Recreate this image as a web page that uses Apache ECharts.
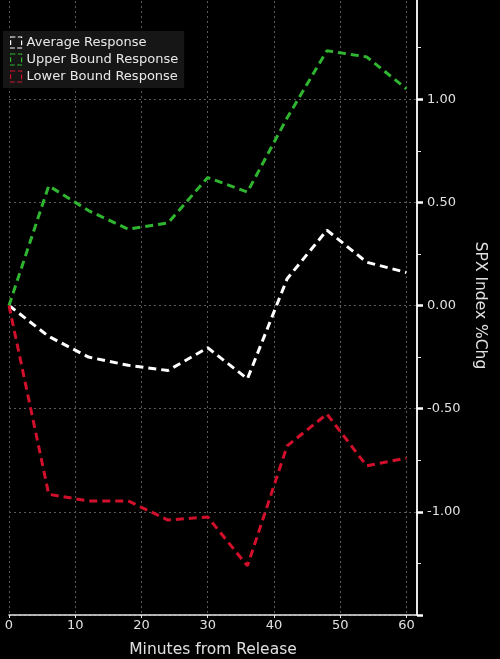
<!DOCTYPE html>
<html>
<head>
<meta charset="utf-8">
<script src="https://cdn.jsdelivr.net/npm/echarts@6/dist/echarts.min.js"></script>
<style>html,body{margin:0;padding:0;background:#000;}#c{width:500px;height:659px;}</style>
</head>
<body>
<div id="c"></div>
<script>
const minutes = [0, 6, 12, 18, 24, 30, 36, 42, 48, 54, 60];
const averageResponse = [0.00, -0.15, -0.25, -0.29, -0.315, -0.205, -0.355, 0.13, 0.365, 0.21, 0.16];
const upperBound = [0.00, 0.58, 0.46, 0.37, 0.40, 0.62, 0.55, 0.91, 1.235, 1.205, 1.05];
const lowerBound = [0.00, -0.915, -0.947, -0.947, -1.04, -1.025, -1.262, -0.68, -0.526, -0.777, -0.74];
const seriesNames = ['Average Response', 'Upper Bound Response', 'Lower Bound Response'];
const colors = ['#ffffff', '#2fb52f', '#d2102c'];
const yTickLabels = [-1.0, -0.5, 0.0, 0.5, 1.0];

const chart = echarts.init(document.getElementById('c'));
const mk = (arr) => minutes.map((m, i) => [m, arr[i]]);
const seriesData = [averageResponse, upperBound, lowerBound];
chart.setOption({
  backgroundColor: '#000000',
  animation: false,
  textStyle: { fontFamily: 'DejaVu Sans' },
  grid: { left: 9, right: 83, top: -4, bottom: 44, containLabel: false, outerBoundsMode: 'none' },
  legend: {
    left: 3, top: 31, orient: 'vertical',
    backgroundColor: '#161616',
    padding: [5, 6, 5, 7],
    itemGap: 4, itemWidth: 11, itemHeight: 11,
    textStyle: { color: '#e8e8e8', fontSize: 13, fontFamily: 'DejaVu Sans' },
    data: seriesNames.map((n, i) => ({
      name: n, icon: 'rect',
      itemStyle: { color: 'transparent', borderColor: colors[i], borderWidth: 1.2, borderType: 'dashed' }
    }))
  },
  xAxis: {
    type: 'value', min: 0, max: 61.6, interval: 10,
    name: 'Minutes from Release', nameLocation: 'middle', nameGap: 27,
    nameTextStyle: { color: '#e0e0e0', fontSize: 15.5 },
    axisLine: { show: true, onZero: false, lineStyle: { color: '#e8e8e8', width: 1.5 } },
    axisTick: { show: true, length: 3, lineStyle: { color: '#e8e8e8' } },
    axisLabel: {
      color: '#e0e0e0', fontSize: 13, margin: 4, showMaxLabel: false,
      formatter: v => (Math.abs(v % 10) < 1e-9 ? String(v) : '')
    },
    splitLine: { show: true, lineStyle: { color: '#5a5a5a', type: [2, 3], width: 1 } }
  },
  yAxis: {
    type: 'value', position: 'right', min: -1.5, max: 1.5, interval: 0.5,
    name: 'SPX Index %Chg', nameLocation: 'middle', nameRotate: -90, nameGap: 54,
    nameTextStyle: { color: '#e0e0e0', fontSize: 15.5 },
    axisLine: { show: true, onZero: false, lineStyle: { color: '#e8e8e8', width: 2 } },
    axisTick: { show: true, inside: false, length: 6, lineStyle: { color: '#ffffff', width: 2.5 } },
    minorTick: { show: true, splitNumber: 2, length: 4, lineStyle: { color: '#e8e8e8', width: 1 } },
    axisLabel: {
      color: '#e0e0e0', fontSize: 13, margin: 10,
      formatter: v => (yTickLabels.some(t => Math.abs(t - v) < 1e-9) ? v.toFixed(2) : '')
    },
    splitLine: { show: true, lineStyle: { color: '#5a5a5a', type: [2, 3], width: 1 } }
  },
  series: seriesNames.map((n, i) => ({
    name: n, type: 'line', data: mk(seriesData[i]),
    showSymbol: false, symbol: 'none',
    lineStyle: { color: colors[i], width: 3, type: [8, 5] },
    itemStyle: { color: colors[i] }
  }))
});
</script>
</body>
</html>
